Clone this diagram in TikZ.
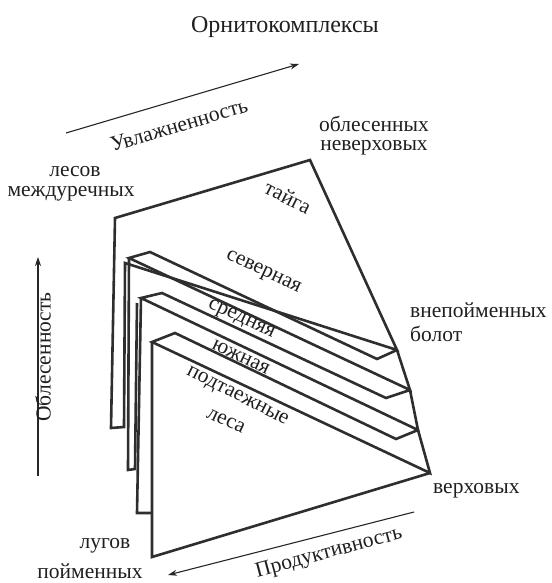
\documentclass[tikz,border=0pt]{standalone}
\usepackage{fontspec}
\setmainfont{Liberation Serif}
\usetikzlibrary{arrows.meta}
\begin{document}
\begin{tikzpicture}[x=1pt,y=-1pt,
  plate/.style={line width=2.6pt,draw=black!82,line join=miter,line cap=butt},
  axisarrow/.style={line width=1.1pt,draw=black!85,-{Stealth[length=9pt,width=6pt]}},
  lbl/.style={inner sep=0pt,text=black!88,font=\fontsize{21.5}{25}\selectfont},
  ttl/.style={inner sep=0pt,text=black!88,font=\fontsize{24}{28}\selectfont}]
\path[use as bounding box] (0,0) rectangle (551,583);
% plate vertices
\coordinate (A0) at (115,218);
\coordinate (B)  at (310,160);
\coordinate (C0) at (397,350);
\coordinate (N0) at (377,359);
\coordinate (Q1) at (150,252);
\coordinate (P1) at (129,258);
\coordinate (C1) at (410,390);
\coordinate (N1) at (386,398);
\coordinate (Q2) at (162,293);
\coordinate (P2) at (141,298);
\coordinate (C2) at (418,430);
\coordinate (N2) at (396,439);
\coordinate (Q3) at (175,333);
\coordinate (P3) at (152,342);
\coordinate (C3) at (430,473);
% left faces
\coordinate (L0b) at (111,428);
\coordinate (L0s) at (124,427);
\coordinate (L0t) at (125,263);
\coordinate (L1b) at (128,470);
\coordinate (L1s) at (135,469);
\coordinate (L1t) at (137,303);
\coordinate (L2b) at (137,513);
\coordinate (L2s) at (151,513);
\coordinate (L3b) at (152,557);
% plates
\draw[plate] (L0t) -- (L0s) -- (L0b) -- (A0) -- (B) -- (C0) -- cycle;
\draw[plate] (C0) -- (N0) -- (Q1) -- (P1) -- (C1) -- (C0);
\draw[plate] (L1t) -- (L1s) -- (L1b) -- (P1);
\draw[plate] (C1) -- (N1) -- (Q2) -- (P2) -- (C2) -- (C1);
\draw[plate] (L2s) -- (L2b) -- (P2);
\draw[plate] (C2) -- (N2) -- (Q3) -- (P3) -- (C3) -- (C2);
\draw[plate] (P3) -- (L3b) -- (C3);
% axes
\coordinate (u1) at (66,133);
\coordinate (u2) at (299,64);
\coordinate (o1) at (38,476);
\coordinate (o2) at (38,257);
\coordinate (p1) at (414,512);
\coordinate (p2) at (168,575);
\draw[axisarrow] (u1) -- (u2);
\draw[axisarrow] (o1) -- (o2);
\draw[axisarrow] (p1) -- (p2);
% texts
\node[ttl] (title) at (285,27) {Орнитокомплексы};
\node[lbl] (les1) at (75,172) {лесов};
\node[lbl] (les2) at (71,194) {междуречных};
\node[lbl] (obl1) at (374,124) {облесенных};
\node[lbl] (obl2) at (374,148) {неверховых};
\node[lbl,anchor=west] (vne1) at (410,310) {внепойменных};
\node[lbl,anchor=west] (vne2) at (410,334) {болот};
\node[lbl,anchor=west] (verh) at (433,491) {верховых};
\node[lbl] (lug1) at (105,546) {лугов};
\node[lbl] (lug2) at (90,571) {пойменных};
\node[lbl,rotate=16.5] (uvl) at (179,125) {Увлажненность};
\node[lbl,rotate=90] (obles) at (43,357) {Облесенность};
\node[lbl,rotate=15] (prod) at (329,553) {Продуктивность};
\node[lbl,rotate=-27] (taiga) at (288,197) {тайга};
\node[lbl,rotate=-25] (sev) at (263,273) {северная};
\node[lbl,rotate=-25] (sred) at (241,320) {средняя};
\node[lbl,rotate=-25] (yuzh) at (241,357) {южная};
\node[lbl,rotate=-27] (podt) at (237,397) {подтаежные};
\node[lbl,rotate=-25] (lesa) at (226,421) {леса};
\end{tikzpicture}
\end{document}
